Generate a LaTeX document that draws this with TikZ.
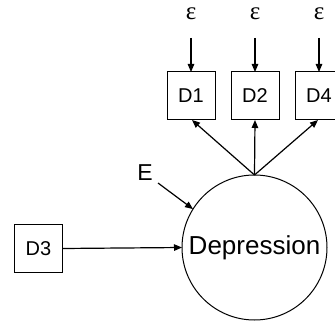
\documentclass[tikz,border=0pt]{standalone}
\usepackage{fontspec}
\setmainfont{Liberation Sans}
\newfontfamily\epsfont{Liberation Serif}
\usetikzlibrary{arrows.meta}
\begin{document}
\begin{tikzpicture}[x=1pt,y=-1pt,
  every node/.style={inner sep=0pt,outer sep=0pt},
  obsbox/.style={draw,line width=1pt,minimum width=48pt,minimum height=48pt,font=\fontsize{20}{20}\selectfont},
  latent/.style={draw,line width=1pt,circle,minimum size=145pt,font=\fontsize{26}{26}\selectfont},
  epslab/.style={font=\epsfont\fontsize{25}{25}\selectfont},
  arr/.style={line width=1.2pt,-{Triangle[length=8pt,width=6.5pt]}}]
\useasboundingbox (0,0) rectangle (335,321);
\node[latent] (dep) at (254.5,247.5) {Depression};
\node[obsbox] (d1) at (191,96) {D1};
\node[obsbox] (d2) at (255,96) {D2};
\node[obsbox] (d4) at (319,96) {D4};
\node[obsbox] (d3) at (38.5,248.5) {D3};
\node[epslab] (e1) at (191,14) {ε};
\node[epslab] (e2) at (255,14) {ε};
\node[epslab] (e4) at (319,14) {ε};
\node[font=\fontsize{23}{23}\selectfont] (elab) at (145,173) {E};
\coordinate (e1s) at (191,38);
\coordinate (e2s) at (255,38);
\coordinate (e4s) at (319,38);
\coordinate (es) at (158,183);
\draw[arr] (e1s) -- (d1.north);
\draw[arr] (e2s) -- (d2.north);
\draw[arr] (e4s) -- (d4.north);
\draw[arr] (dep.north) -- ([xshift=1pt]d1.south);
\draw[arr] (dep.north) -- (d2.south);
\draw[arr] (dep.north) -- ([xshift=-1pt]d4.south);
\draw[arr] (d3.east) -- (dep.west);
\draw[arr] (es) -- (dep.148);
\end{tikzpicture}
\end{document}
